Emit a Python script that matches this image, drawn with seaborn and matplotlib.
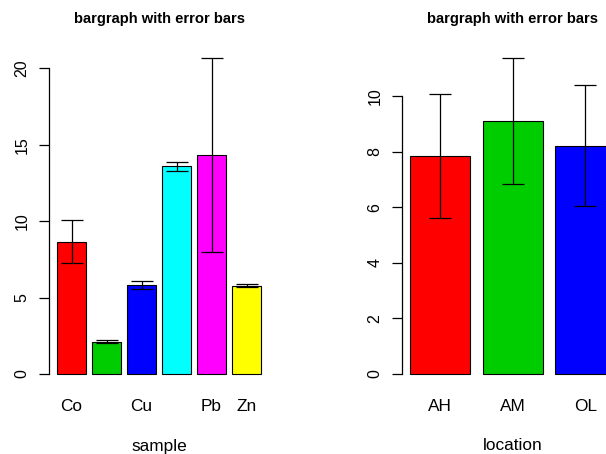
import numpy as np
import pandas as pd
import matplotlib
matplotlib.use("Agg")
import matplotlib.pyplot as plt
import seaborn as sns

# left panel: by sample
samples = ["Co", "s2", "Cu", "s4", "Pb", "Zn"]
sample_ticks = ["Co", "", "Cu", "", "Pb", "Zn"]
sample_means = [8.65, 2.1, 5.83, 13.58, 14.33, 5.78]
sample_err = [1.41, 0.09, 0.25, 0.30, 6.35, 0.12]
sample_colors = ["#FF0000", "#00CD00", "#0000FF", "#00FFFF", "#FF00FF", "#FFFF00"]

# right panel: by location
locations = ["AH", "AM", "OL"]
location_means = [7.85, 9.12, 8.22]
location_err = [2.23, 2.28, 2.18]
location_colors = ["#FF0000", "#00CD00", "#0000FF"]

sns.set_style("white")
plt.rcParams["font.family"] = ["Liberation Sans", "DejaVu Sans"]
plt.rcParams["text.color"] = "black"
plt.rcParams["xtick.color"] = "black"
plt.rcParams["ytick.color"] = "black"
plt.rcParams["axes.labelcolor"] = "black"

fig = plt.figure(figsize=(6.06, 4.54), dpi=100)
W, H = 606, 454
AX_BOTTOM, AX_H = 386.6, 341.6


def panel(left_px, width_px, cats, ticks, means, errs, colors, ymax, yticks, xlab):
    ax = fig.add_axes([left_px / W, (H - AX_BOTTOM) / H, width_px / W, AX_H / H])
    df = pd.DataFrame({"cat": cats, "val": means})
    sns.barplot(data=df, x="cat", y="val", hue="cat", palette=colors, legend=False,
                width=1 / 1.2, edgecolor="black", linewidth=0.8, saturation=1,
                errorbar=None, ax=ax)
    ax.errorbar(np.arange(len(cats)), means, yerr=errs, fmt="none", ecolor="black",
                elinewidth=0.9, capsize=7.9, capthick=0.9, clip_on=False)
    n = len(cats)
    ext = 0.04 * (n * 1.2 - 0.2) / 1.2
    ax.set_xlim(-0.5 / 1.2 - ext, n - 1 + 0.5 / 1.2 + ext)
    ax.set_ylim(-0.04 * ymax, 1.04 * ymax)
    for s in ["top", "right", "bottom"]:
        ax.spines[s].set_visible(False)
    ax.spines["left"].set_bounds(yticks[0], yticks[-1])
    ax.spines["left"].set_linewidth(0.9)
    ax.spines["left"].set_color("black")
    ax.set_yticks(yticks)
    ax.set_yticklabels([str(t) for t in yticks], rotation=90, va="center", fontsize=11.5)
    ax.tick_params(axis="y", length=7.5, width=0.9, pad=6.5, left=True)
    ax.set_xticks(np.arange(n))
    ax.set_xticklabels(ticks, fontsize=12.4)
    ax.tick_params(axis="x", length=0, pad=8.6)
    ax.set_ylabel("")
    ax.set_xlabel(xlab, fontsize=12.4)
    ax.xaxis.set_label_coords(0.5, (AX_BOTTOM - 446) / AX_H)
    ax.xaxis.label.set_va("center")
    ax.set_title("bargraph with error bars", fontsize=10.6, fontweight="bold", pad=0,
                 y=(AX_BOTTOM - 19.5) / AX_H, va="center")
    return ax


panel(48.8, 220.5, samples, sample_ticks, sample_means, sample_err, sample_colors,
      20.7, [0, 5, 10, 15, 20], "sample")
panel(401.7, 222.3, locations, locations, location_means, location_err, location_colors,
      11.4, [0, 2, 4, 6, 8, 10], "location")

fig.savefig("out.png", dpi=100)
